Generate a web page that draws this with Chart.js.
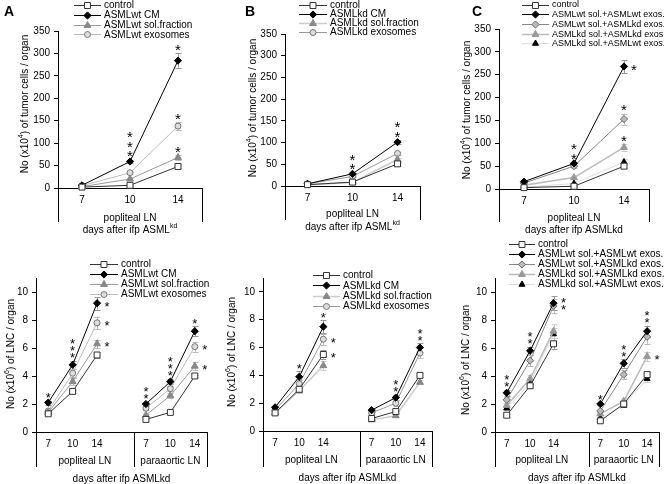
<!DOCTYPE html>
<html>
<head>
<meta charset="utf-8">
<script src="https://cdn.jsdelivr.net/npm/chart.js@4.4.1/dist/chart.umd.min.js"></script>
<style>
  body { margin: 0; background: #fff; }
  #fig { position: relative; width: 664px; height: 484px; background: #fff; overflow: hidden; }
  #fig canvas { position: absolute; left: 0; top: 0; }
</style>
</head>
<body>
<div id="fig">
  <canvas id="chartA" width="664" height="484"></canvas>
  <canvas id="chartB" width="664" height="484"></canvas>
  <canvas id="chartC" width="664" height="484"></canvas>
  <canvas id="chartD" width="664" height="484"></canvas>
  <canvas id="chartE" width="664" height="484"></canvas>
  <canvas id="chartF" width="664" height="484"></canvas>
</div>
<script>
// --- categorias ---
const daysTop = ['7', '10', '14'];
const daysBottom = ['7', '10', '14', '', '7', '10', '14'];
const groupsTop = ['popliteal LN'];
const groupsBottom = ['popliteal LN', 'paraaortic LN'];

const labelsWt = ['control', 'ASMLwt CM', 'ASMLwt sol.fraction', 'ASMLwt exosomes'];
const labelsKd = ['control', 'ASMLkd CM', 'ASMLkd sol.fraction', 'ASMLkd exosomes'];
const labelsMix = ['control', 'ASMLwt sol.+ASMLwt exos.', 'ASMLwt sol.+ASMLkd exos.',
                   'ASMLkd sol.+ASMLkd exos.', 'ASMLkd sol.+ASMLwt exos.'];

// --- painel A: células tumorais (x10^4) ---
const aControl = [2, 6, 48];
const aCM = [6, 59, 284];
const aSol = [3, 20, 68];
const aExo = [5, 34, 138];
const aControlErr = [1, 1, 3];
const aCMErr = [1, 4, 16];
const aSolErr = [1, 2, 5];
const aExoErr = [1, 2, 9];

// --- painel B ---
const bControl = [3, 9, 51];
const bCM = [5, 28, 101];
const bSol = [3, 8, 61];
const bExo = [5, 22, 75];
const bControlErr = [1, 1, 4];
const bCMErr = [1, 3, 5];
const bSolErr = [1, 1, 4];
const bExoErr = [1, 2, 4];

// --- painel C ---
const cControl = [3, 6, 50];
const cWtWt = [16, 56, 268];
const cWtKd = [13, 50, 153];
const cKdKd = [8, 25, 91];
const cKdWt = [4, 12, 59];
const cControlErr = [1, 1, 4];
const cWtWtErr = [2, 3, 14];
const cWtKdErr = [2, 3, 12];
const cKdKdErr = [1, 3, 7];
const cKdWtErr = [1, 2, 6];

// --- painel D: LNC (x10^6) ---
const dControl = [1.3, 2.9, 5.5, null, 0.9, 1.4, 4.0];
const dCM = [2.1, 4.8, 9.2, null, 2.0, 3.6, 7.2];
const dSol = [1.4, 3.6, 6.3, null, 1.2, 2.6, 4.7];
const dExo = [1.5, 4.2, 7.8, null, 1.7, 3.1, 6.1];
const dControlErr = [0.1, 0.1, 0.2, null, 0.1, 0.1, 0.1];
const dCMErr = [0.15, 0.3, 0.45, null, 0.15, 0.2, 0.35];
const dSolErr = [0.1, 0.25, 0.3, null, 0.1, 0.2, 0.3];
const dExoErr = [0.1, 0.3, 0.45, null, 0.15, 0.2, 0.35];

// --- painel E ---
const eControl = [1.3, 3.0, 5.5, null, 0.9, 1.4, 4.0];
const eCM = [1.7, 3.9, 7.5, null, 1.5, 2.4, 6.0];
const eSol = [1.3, 2.9, 4.7, null, 0.8, 1.1, 3.5];
const eExo = [1.5, 3.4, 6.6, null, 1.3, 2.0, 5.6];
const eControlErr = [0.1, 0.15, 0.3, null, 0.1, 0.1, 0.15];
const eCMErr = [0.1, 0.4, 0.45, null, 0.1, 0.2, 0.3];
const eSolErr = [0.1, 0.15, 0.3, null, 0.1, 0.1, 0.15];
const eExoErr = [0.1, 0.3, 0.4, null, 0.1, 0.2, 0.35];

// --- painel F ---
const fControl = [1.2, 3.3, 6.3, null, 0.8, 2.0, 4.1];
const fWtWt = [2.8, 5.8, 9.2, null, 2.0, 4.9, 7.2];
const fWtKd = [2.3, 5.1, 9.0, null, 1.5, 4.1, 6.8];
const fKdKd = [1.9, 3.8, 7.2, null, 1.3, 2.2, 5.4];
const fKdWt = [1.7, 3.5, 7.0, null, 1.0, 1.9, 3.8];
const fControlErr = [0.1, 0.15, 0.4, null, 0.1, 0.1, 0.2];
const fWtWtErr = [0.2, 0.3, 0.5, null, 0.1, 0.3, 0.4];
const fWtKdErr = [0.2, 0.4, 0.5, null, 0.1, 0.3, 0.5];
const fKdKdErr = [0.2, 0.3, 0.5, null, 0.1, 0.2, 0.35];
const fKdWtErr = [0.1, 0.2, 0.4, null, 0.1, 0.1, 0.2];

// --- asteriscos de significância: [série, ponto, quantidade, posição] ---
const aStars = [[1, 1, 3, 'up'], [1, 2, 1, 'up'], [3, 2, 1, 'up'], [2, 2, 1, 'up']];
const bStars = [[1, 1, 2, 'up'], [1, 2, 2, 'up']];
const cStars = [[1, 1, 2, 'up'], [1, 2, 1, 'right'], [2, 2, 1, 'up'], [3, 2, 1, 'up']];
const dStars = [[1, 0, 1, 'up'], [1, 1, 3, 'up'], [1, 2, 1, 'right'], [3, 2, 1, 'right'], [2, 2, 1, 'right'],
                [1, 4, 2, 'up'], [1, 5, 3, 'up'], [1, 6, 1, 'up'], [3, 6, 1, 'right'], [2, 6, 1, 'right']];
const eStars = [[1, 1, 1, 'up'], [1, 2, 1, 'up'], [3, 2, 1, 'right'], [0, 2, 1, 'right'],
                [1, 5, 2, 'up'], [1, 6, 2, 'up']];
const fStars = [[1, 0, 2, 'up'], [1, 1, 2, 'up'], [1, 2, 2, 'right'], [1, 4, 1, 'up'],
                [1, 5, 2, 'up'], [1, 6, 2, 'up'], [3, 6, 1, 'right']];

// --- estilos das séries ---
const FONT = '"Liberation Sans", Arial, Helvetica, sans-serif';
const W = 664, H = 484;
const st = {
  control: { line: '#333', shape: 'rect', fill: '#fff', border: '#333', r: 4.2, err: '#999' },
  cm:      { line: '#000', shape: 'rectRot', fill: '#000', border: '#000', r: 3.6, err: '#999' },
  solWt:   { line: '#999', shape: 'triangle', fill: '#888', border: '#888', r: 4, err: '#bbb' },
  exoWt:   { line: '#bbb', shape: 'circle', fill: '#ddd', border: '#777', r: 3, err: '#bbb' },
  solKd:   { line: '#ccc', shape: 'triangle', fill: '#888', border: '#888', r: 4, err: '#ccc', lw: 1.5 },
  exoKd:   { line: '#999', shape: 'circle', fill: '#ddd', border: '#777', r: 3, err: '#bbb' },
  wtkd:    { line: '#888', shape: 'rectRot', fill: '#bbb', border: '#666', r: 3.6, err: '#bbb' },
  kdkd:    { line: '#bbb', shape: 'triangle', fill: '#999', border: '#999', r: 4, err: '#ccc', lw: 1.5 },
  kdwt:    { line: '#ddd', shape: 'triangle', fill: '#000', border: '#000', r: 3.5, err: '#ccc' }
};

Chart.defaults.font.family = FONT;
Chart.defaults.font.size = 10;
Chart.defaults.color = '#000';

function drawMarker(ctx, s, x, y) {
  const r = s.r;
  ctx.beginPath();
  if (s.shape === 'rect') {
    const h = r * Math.SQRT1_2;
    ctx.rect(x - h, y - h, 2 * h, 2 * h);
  } else if (s.shape === 'rectRot') {
    ctx.moveTo(x, y - r); ctx.lineTo(x + r, y); ctx.lineTo(x, y + r); ctx.lineTo(x - r, y); ctx.closePath();
  } else if (s.shape === 'triangle') {
    const k = Math.sin(2 * Math.PI / 3) * r;
    ctx.moveTo(x, y - r); ctx.lineTo(x + k, y + r / 2); ctx.lineTo(x - k, y + r / 2); ctx.closePath();
  } else {
    ctx.arc(x, y, r, 0, Math.PI * 2);
  }
  ctx.fillStyle = s.fill; ctx.fill();
  ctx.lineWidth = 1; ctx.strokeStyle = s.border; ctx.stroke();
}

// texto com partes em sobrescrito: [[texto, sobrescrito?], ...]
function partsWidth(ctx, parts, fs) {
  let w = 0;
  parts.forEach(p => {
    ctx.font = (p[1] ? fs * 0.7 : fs) + 'px ' + FONT;
    w += ctx.measureText(p[0]).width;
  });
  return w;
}
function drawParts(ctx, parts, cx, cy, fs) {
  let x = cx - partsWidth(ctx, parts, fs) / 2;
  ctx.textAlign = 'left';
  ctx.textBaseline = 'middle';
  parts.forEach(p => {
    ctx.font = (p[1] ? fs * 0.7 : fs) + 'px ' + FONT;
    ctx.fillText(p[0], x, p[1] ? cy - fs * 0.35 : cy);
    x += ctx.measureText(p[0]).width;
  });
}

function extras(cfg) {
  return {
    id: 'extras',
    beforeDatasetsDraw(chart) {
      const ctx = chart.ctx, ys = chart.scales.y;
      ctx.save();
      chart.data.datasets.forEach((ds, di) => {
        const meta = chart.getDatasetMeta(di);
        ctx.strokeStyle = ds.errColor;
        ctx.lineWidth = 1;
        ds.data.forEach((v, i) => {
          if (v == null || ds.errs[i] == null) return;
          const x = Math.round(meta.data[i].x) + 0.5;
          const y1 = ys.getPixelForValue(v + ds.errs[i]);
          const y2 = ys.getPixelForValue(v - ds.errs[i]);
          ctx.beginPath();
          ctx.moveTo(x, y1); ctx.lineTo(x, y2);
          ctx.moveTo(x - 3, Math.round(y1) + 0.5); ctx.lineTo(x + 3, Math.round(y1) + 0.5);
          ctx.moveTo(x - 3, Math.round(y2) + 0.5); ctx.lineTo(x + 3, Math.round(y2) + 0.5);
          ctx.stroke();
        });
      });
      ctx.restore();
    },
    afterDatasetsDraw(chart) {
      const ctx = chart.ctx, ys = chart.scales.y, xs = chart.scales.x, ca = chart.chartArea;
      ctx.save();
      ctx.fillStyle = '#000';

      // asteriscos
      ctx.font = cfg.starSize + 'px ' + FONT;
      ctx.textAlign = 'center';
      ctx.textBaseline = 'alphabetic';
      cfg.stars.forEach(([di, i, n, where]) => {
        const ds = chart.data.datasets[di];
        const pt = chart.getDatasetMeta(di).data[i];
        for (let k = 0; k < n; k++) {
          let x, yc;
          if (where === 'up') {
            x = pt.x;
            yc = ys.getPixelForValue(ds.data[i] + ds.errs[i]) - cfg.starOff - k * cfg.starGap;
          } else {
            x = pt.x + 10;
            yc = pt.y - (n - 1) * cfg.starGap / 2 + k * cfg.starGap;
          }
          ctx.fillText('*', x, yc + cfg.starSize * 0.575);
        }
      });

      // legenda
      const lg = cfg.legend;
      chart.data.datasets.forEach((ds, di) => {
        const y = lg.y0 + di * lg.dy;
        ctx.strokeStyle = ds.borderColor;
        ctx.lineWidth = ds.borderWidth;
        ctx.beginPath();
        ctx.moveTo(lg.x1, Math.round(y) + 0.5); ctx.lineTo(lg.x2, Math.round(y) + 0.5);
        ctx.stroke();
        drawMarker(ctx, ds.style, (lg.x1 + lg.x2) / 2, Math.round(y) + 0.5);
        ctx.fillStyle = '#000';
        ctx.font = lg.fs + 'px ' + FONT;
        ctx.textAlign = 'left';
        ctx.textBaseline = 'middle';
        ctx.fillText(ds.label, lg.tx, y + 0.5);
      });

      // letra do painel
      if (cfg.letter) {
        ctx.font = 'bold 14px ' + FONT;
        ctx.textAlign = 'left';
        ctx.textBaseline = 'alphabetic';
        ctx.fillText(cfg.letter[0], cfg.letter[1], cfg.letter[2]);
      }

      // título do eixo y (rotacionado)
      ctx.save();
      ctx.translate(cfg.yTitle.x, cfg.yTitle.y);
      ctx.rotate(-Math.PI / 2);
      drawParts(ctx, cfg.yTitle.parts, 0, 0, 10);
      ctx.restore();

      // grupos do eixo x e separadores
      const edges = [ca.left];
      cfg.groupStarts.slice(1).forEach(k => edges.push((xs.getPixelForTick(k - 1) + xs.getPixelForTick(k)) / 2));
      edges.push(ca.right);
      ctx.strokeStyle = '#000';
      ctx.lineWidth = 1;
      edges.forEach(x => {
        const px = Math.round(x) + 0.5;
        ctx.beginPath(); ctx.moveTo(px, ca.bottom); ctx.lineTo(px, cfg.lineBottom); ctx.stroke();
      });
      ctx.fillStyle = '#000';
      ctx.font = '10px ' + FONT;
      ctx.textAlign = 'center';
      ctx.textBaseline = 'middle';
      cfg.groups.forEach((g, gi) => ctx.fillText(g, (edges[gi] + edges[gi + 1]) / 2, cfg.groupY));
      drawParts(ctx, cfg.xTitle, (ca.left + ca.right) / 2, cfg.titleY, 10);
      ctx.restore();
    }
  };
}

function makePanel(id, cfg) {
  const datasets = cfg.series.map(s => ({
    label: s[0], data: s[1], errs: s[2], style: s[3], errColor: s[3].err,
    borderColor: s[3].line, borderWidth: s[3].lw || 1,
    pointStyle: s[3].shape, pointRadius: s[3].r, pointHoverRadius: s[3].r,
    pointBackgroundColor: s[3].fill, pointBorderColor: s[3].border, pointBorderWidth: 1,
    tension: 0, fill: false, spanGaps: false, clip: false
  }));
  // caixas fixas dos eixos: os rótulos são recortados à caixa da escala
  const yw = Math.min(cfg.area.l, 40);
  const xh = 20;
  return new Chart(document.getElementById(id), {
    type: 'line',
    data: { labels: cfg.labels, datasets },
    options: {
      responsive: false,
      animation: false,
      events: [],
      layout: { padding: { left: cfg.area.l - yw, top: cfg.area.t, right: W - cfg.area.r, bottom: H - cfg.area.b - xh } },
      plugins: { legend: { display: false }, tooltip: { enabled: false } },
      scales: {
        x: {
          offset: true,
          afterFit(s) { s.height = xh; },
          ticks: { padding: 6, autoSkip: false, maxRotation: 0, color: '#000', font: { size: 10 } },
          grid: { display: false, drawTicks: false },
          border: { display: true, color: '#000', width: 1 }
        },
        y: {
          min: 0, max: cfg.yMax,
          afterFit(s) { s.width = yw; },
          ticks: { stepSize: cfg.yStep, includeBounds: false, padding: 4, color: '#000', font: { size: 10 } },
          grid: { display: true, drawOnChartArea: false, drawTicks: true, tickLength: 4, color: '#000' },
          border: { display: true, color: '#000', width: 1 }
        }
      }
    },
    plugins: [extras(cfg)]
  });
}

const tumorTitle = [['No (x10', 0], ['4', 1], [') of tumor cells / organ', 0]];
const lncTitle = [['No (x10', 0], ['6', 1], [') of LNC / organ', 0]];
const titleSup = [['days after ifp ASML', 0], ['kd', 1]];
const titlePlain = [['days after ifp ASMLkd', 0]];

makePanel('chartA', {
  labels: daysTop, yMax: 350, yStep: 50,
  area: { l: 58, t: 31, r: 202, b: 188 },
  series: [[labelsWt[0], aControl, aControlErr, st.control], [labelsWt[1], aCM, aCMErr, st.cm],
           [labelsWt[2], aSol, aSolErr, st.solWt], [labelsWt[3], aExo, aExoErr, st.exoWt]],
  stars: aStars, starSize: 15, starGap: 9.5, starOff: 7,
  legend: { x1: 74, x2: 101, tx: 104, y0: 5, dy: 9.8, fs: 10 },
  letter: ['A', 4, 16],
  yTitle: { x: 25, y: 104, parts: tumorTitle },
  groupStarts: [0], groups: groupsTop, groupY: 218, titleY: 230, lineBottom: 222, xTitle: titleSup
});

makePanel('chartB', {
  labels: daysTop, yMax: 350, yStep: 50,
  area: { l: 285, t: 34, r: 420, b: 186 },
  series: [[labelsKd[0], bControl, bControlErr, st.control], [labelsKd[1], bCM, bCMErr, st.cm],
           [labelsKd[2], bSol, bSolErr, st.solKd], [labelsKd[3], bExo, bExoErr, st.exoKd]],
  stars: bStars, starSize: 15, starGap: 9.5, starOff: 7,
  legend: { x1: 299, x2: 327, tx: 330, y0: 5, dy: 9, fs: 10 },
  letter: ['B', 245, 16],
  yTitle: { x: 253, y: 108, parts: tumorTitle },
  groupStarts: [0], groups: groupsTop, groupY: 214, titleY: 227, lineBottom: 220, xTitle: titleSup
});

makePanel('chartC', {
  labels: daysTop, yMax: 350, yStep: 50,
  area: { l: 499, t: 29, r: 649, b: 189 },
  series: [[labelsMix[0], cControl, cControlErr, st.control], [labelsMix[1], cWtWt, cWtWtErr, st.cm],
           [labelsMix[2], cWtKd, cWtKdErr, st.wtkd], [labelsMix[3], cKdKd, cKdKdErr, st.kdkd],
           [labelsMix[4], cKdWt, cKdWtErr, st.kdwt]],
  stars: cStars, starSize: 15, starGap: 9.5, starOff: 7,
  legend: { x1: 522, x2: 549, tx: 552, y0: 4.5, dy: 9.7, fs: 9 },
  letter: ['C', 472, 16],
  yTitle: { x: 467, y: 110, parts: tumorTitle },
  groupStarts: [0], groups: groupsTop, groupY: 218, titleY: 230, lineBottom: 222, xTitle: titlePlain
});

makePanel('chartD', {
  labels: daysBottom, yMax: 11, yStep: 2,
  area: { l: 36, t: 278, r: 207, b: 432 },
  series: [[labelsWt[0], dControl, dControlErr, st.control], [labelsWt[1], dCM, dCMErr, st.cm],
           [labelsWt[2], dSol, dSolErr, st.solWt], [labelsWt[3], dExo, dExoErr, st.exoWt]],
  stars: dStars, starSize: 13, starGap: 7, starOff: 6,
  legend: { x1: 90, x2: 118, tx: 121, y0: 263.5, dy: 10, fs: 10 },
  yTitle: { x: 11, y: 354, parts: lncTitle },
  groupStarts: [0, 4], groups: groupsBottom, groupY: 461, titleY: 479, lineBottom: 467, xTitle: titlePlain
});

makePanel('chartE', {
  labels: daysBottom, yMax: 11, yStep: 2,
  area: { l: 263, t: 278, r: 432, b: 431 },
  series: [[labelsKd[0], eControl, eControlErr, st.control], [labelsKd[1], eCM, eCMErr, st.cm],
           [labelsKd[2], eSol, eSolErr, st.solKd], [labelsKd[3], eExo, eExoErr, st.exoKd]],
  stars: eStars, starSize: 13, starGap: 7, starOff: 6,
  legend: { x1: 313, x2: 340, tx: 343, y0: 275, dy: 10.3, fs: 10 },
  yTitle: { x: 232, y: 352, parts: lncTitle },
  groupStarts: [0, 4], groups: groupsBottom, groupY: 460, titleY: 478, lineBottom: 467, xTitle: titlePlain
});

makePanel('chartF', {
  labels: daysBottom, yMax: 11, yStep: 2,
  area: { l: 495, t: 278, r: 662, b: 432 },
  series: [[labelsMix[0], fControl, fControlErr, st.control], [labelsMix[1], fWtWt, fWtWtErr, st.cm],
           [labelsMix[2], fWtKd, fWtKdErr, st.wtkd], [labelsMix[3], fKdKd, fKdKdErr, st.kdkd],
           [labelsMix[4], fKdWt, fKdWtErr, st.kdwt]],
  stars: fStars, starSize: 13, starGap: 7, starOff: 6,
  legend: { x1: 509, x2: 535, tx: 538, y0: 243.5, dy: 10, fs: 10 },
  yTitle: { x: 466, y: 360, parts: lncTitle },
  groupStarts: [0, 4], groups: groupsBottom, groupY: 460, titleY: 478, lineBottom: 467, xTitle: titlePlain
});
</script>
</body>
</html>
